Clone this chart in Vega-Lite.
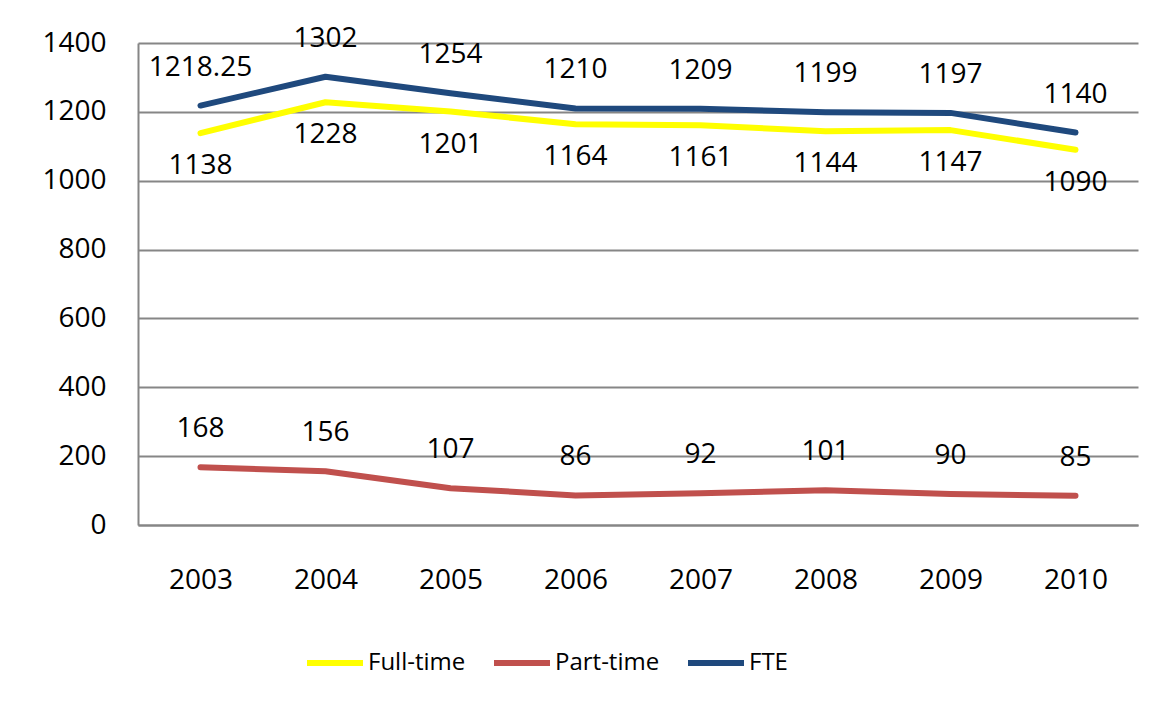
{
  "$schema": "https://vega.github.io/schema/vega-lite/v6.json",
  "width": 1000,
  "height": 482,
  "autosize": {"type": "none"},
  "padding": {"left": 138, "top": 43, "right": 32, "bottom": 183},
  "background": "white",
  "config": {
    "font": "Open Sans",
    "view": {"stroke": null}
  },
  "data": {
    "values": [
      {"year": "2003", "series": "Full-time", "value": 1138},
      {"year": "2004", "series": "Full-time", "value": 1228},
      {"year": "2005", "series": "Full-time", "value": 1201},
      {"year": "2006", "series": "Full-time", "value": 1164},
      {"year": "2007", "series": "Full-time", "value": 1161},
      {"year": "2008", "series": "Full-time", "value": 1144},
      {"year": "2009", "series": "Full-time", "value": 1147},
      {"year": "2010", "series": "Full-time", "value": 1090},
      {"year": "2003", "series": "Part-time", "value": 168},
      {"year": "2004", "series": "Part-time", "value": 156},
      {"year": "2005", "series": "Part-time", "value": 107},
      {"year": "2006", "series": "Part-time", "value": 86},
      {"year": "2007", "series": "Part-time", "value": 92},
      {"year": "2008", "series": "Part-time", "value": 101},
      {"year": "2009", "series": "Part-time", "value": 90},
      {"year": "2010", "series": "Part-time", "value": 85},
      {"year": "2003", "series": "FTE", "value": 1218.25},
      {"year": "2004", "series": "FTE", "value": 1302},
      {"year": "2005", "series": "FTE", "value": 1254},
      {"year": "2006", "series": "FTE", "value": 1210},
      {"year": "2007", "series": "FTE", "value": 1209},
      {"year": "2008", "series": "FTE", "value": 1199},
      {"year": "2009", "series": "FTE", "value": 1197},
      {"year": "2010", "series": "FTE", "value": 1140}
    ]
  },
  "encoding": {
    "x": {
      "field": "year", "type": "ordinal",
      "scale": {"type": "point", "padding": 0.5},
      "axis": {"title": null, "labelAngle": 0, "grid": false, "ticks": false, "domain": true, "domainColor": "#868686", "domainWidth": 2, "labelPadding": 55, "labelBaseline": "middle", "labelFont": "Open Sans", "labelFontSize": 28, "labelColor": "black"}
    },
    "y": {
      "field": "value", "type": "quantitative",
      "scale": {"domain": [0, 1400], "nice": false},
      "axis": {"title": null, "format": "d", "values": [0, 200, 400, 600, 800, 1000, 1200, 1400], "grid": true, "gridColor": "#868686", "gridWidth": 2, "ticks": false, "domain": true, "domainColor": "#868686", "domainWidth": 2, "labelPadding": 32, "labelFont": "Open Sans", "labelFontSize": 28, "labelColor": "black"}
    }
  },
  "layer": [
    {
      "mark": {"type": "line", "strokeWidth": 6, "strokeCap": "round", "strokeJoin": "round"},
      "encoding": {
        "color": {
          "field": "series", "type": "nominal",
          "scale": {"domain": ["Full-time", "Part-time", "FTE"], "range": ["#FFFF00", "#C0504D", "#1F497D"]},
          "legend": {
            "title": null, "orient": "none", "direction": "horizontal",
            "legendX": 166, "legendY": 589,
            "symbolType": "stroke", "symbolStrokeWidth": 6, "symbolSize": 3136,
            "labelFontSize": 24, "labelFont": "Open Sans", "labelColor": "black",
            "labelOffset": 2, "columnPadding": 16, "symbolLimit": 0
          }
        }
      }
    },
    {
      "transform": [{"filter": "datum.series === 'FTE'"}],
      "mark": {"type": "text", "dy": -38, "fontSize": 28, "font": "Open Sans", "color": "black", "baseline": "middle"},
      "encoding": {"text": {"field": "value", "type": "quantitative"}}
    },
    {
      "transform": [{"filter": "datum.series === 'Part-time'"}],
      "mark": {"type": "text", "dy": -38, "fontSize": 28, "font": "Open Sans", "color": "black", "baseline": "middle"},
      "encoding": {"text": {"field": "value", "type": "quantitative"}}
    },
    {
      "transform": [{"filter": "datum.series === 'Full-time'"}],
      "mark": {"type": "text", "dy": 33, "fontSize": 28, "font": "Open Sans", "color": "black", "baseline": "middle"},
      "encoding": {"text": {"field": "value", "type": "quantitative"}}
    }
  ]
}
